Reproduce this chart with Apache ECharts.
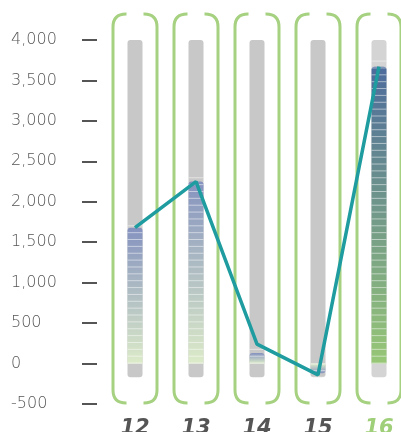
<!DOCTYPE html>
<html>
<head>
<meta charset="utf-8">
<script src="https://cdn.jsdelivr.net/npm/echarts@6/dist/echarts.min.js"></script>
<style>html,body{margin:0;padding:0;background:#fff;}#c{width:401px;height:432px;}</style>
</head>
<body>
<div id="c"></div>
<script>
var categories = ['12', '13', '14', '15', '16'];
var barValues = [1680, 2250, 130, -120, 3670];
var lineValues = [1680, 2250, 240, -140, 3670];
var bgTop = [4000, 4000, 4000, 4000, 4000];
var bgBottom = [-170, -170, -170, -170, -170];
var highlightIndex = 4;
var yMin = -500, yMax = 4000, yStep = 500;

var chart = echarts.init(document.getElementById('c'), null, {renderer: 'canvas'});

function grad(top, bottom, reversed) {
  return new echarts.graphic.LinearGradient(0, 0, 0, 1, reversed ?
    [{offset: 0, color: bottom}, {offset: 1, color: top}] :
    [{offset: 0, color: top}, {offset: 1, color: bottom}]);
}

var barData = barValues.map(function (v, i) {
  var hi = i === highlightIndex;
  var top = hi ? '#4d6b9c' : '#8592bf';
  var bot = hi ? '#97c776' : '#dcebc8';
  return {value: v, itemStyle: {color: grad(top, bot, v < 0), borderRadius: v < 0 ? [0, 0, 3, 3] : [3, 3, 0, 0]}};
});

function bgData(arr) {
  return arr.map(function (v, i) {
    return {value: v, itemStyle: {color: i === highlightIndex ? '#d4d4d4' : '#c8c8c8'}};
  });
}

var catData = categories.map(function (c, i) {
  return i === highlightIndex ? {value: c, textStyle: {color: '#9fcf78'}} : c;
});

var option = {
  animation: false,
  grid: {left: 104.5, top: 40, width: 305, bottom: 28, outerBoundsMode: 'none', containLabel: false},
  xAxis: {
    type: 'category',
    data: catData,
    axisLine: {show: false},
    axisTick: {show: false},
    axisLabel: {
      margin: 14,
      color: '#555',
      fontFamily: 'DejaVu Sans',
      fontWeight: 'bold',
      fontStyle: 'italic',
      fontSize: 21
    }
  },
  yAxis: {
    type: 'value',
    min: yMin, max: yMax, interval: yStep,
    offset: 7.5,
    splitLine: {show: false},
    axisLine: {show: false},
    axisTick: {show: true, length: 15, lineStyle: {color: '#555', width: 2}},
    axisLabel: {
      margin: 86,
      align: 'left',
      color: '#555',
      fontFamily: 'DejaVu Sans',
      fontWeight: 200,
      fontSize: 16,
      formatter: function (v) { return v.toLocaleString('en-US'); }
    }
  },
  series: [
    {
      type: 'custom',
      z: 1,
      clip: false,
      data: categories.map(function (c, i) { return [i]; }),
      renderItem: function (params, api) {
        var idx = api.value(0);
        var cx = api.coord([idx, 0])[0];
        var top = api.coord([idx, yMax])[1] - 26;
        var bot = api.coord([idx, yMin])[1] - 1;
        var hw = 22, r = 13, g = 8.5;
        var l = cx - hw, rt = cx + hw;
        var left = 'M' + (cx - g) + ',' + top + ' L' + (l + r) + ',' + top + ' Q' + l + ',' + top + ' ' + l + ',' + (top + r) +
          ' L' + l + ',' + (bot - r) + ' Q' + l + ',' + bot + ' ' + (l + r) + ',' + bot + ' L' + (cx - g) + ',' + bot;
        var right = 'M' + (cx + g) + ',' + top + ' L' + (rt - r) + ',' + top + ' Q' + rt + ',' + top + ' ' + rt + ',' + (top + r) +
          ' L' + rt + ',' + (bot - r) + ' Q' + rt + ',' + bot + ' ' + (rt - r) + ',' + bot + ' L' + (cx + g) + ',' + bot;
        var st = {fill: null, stroke: '#a6d180', lineWidth: 3};
        return {type: 'group', children: [
          {type: 'path', shape: {pathData: left}, style: st},
          {type: 'path', shape: {pathData: right}, style: st}
        ]};
      }
    },
    {
      type: 'bar', stack: 'bg', barWidth: 15, z: 2,
      data: bgData(bgTop),
      itemStyle: {borderRadius: [3, 3, 0, 0]}
    },
    {
      type: 'bar', stack: 'bg', barWidth: 15, z: 2,
      data: bgData(bgBottom),
      itemStyle: {borderRadius: [0, 0, 3, 3]}
    },
    {
      type: 'bar', barWidth: 15, barGap: '-100%', z: 3,
      data: barData
    },
    {
      type: 'pictorialBar', z: 4,
      symbol: 'rect', symbolRepeat: true, symbolSize: [15, 1], symbolMargin: 3,
      itemStyle: {color: 'rgba(255,255,255,0.5)'},
      data: barValues
    },
    {
      type: 'line', z: 5,
      data: lineValues,
      symbol: 'none',
      lineStyle: {color: '#1f9c9f', width: 3.5}
    }
  ]
};
chart.setOption(option);
</script>
</body>
</html>
